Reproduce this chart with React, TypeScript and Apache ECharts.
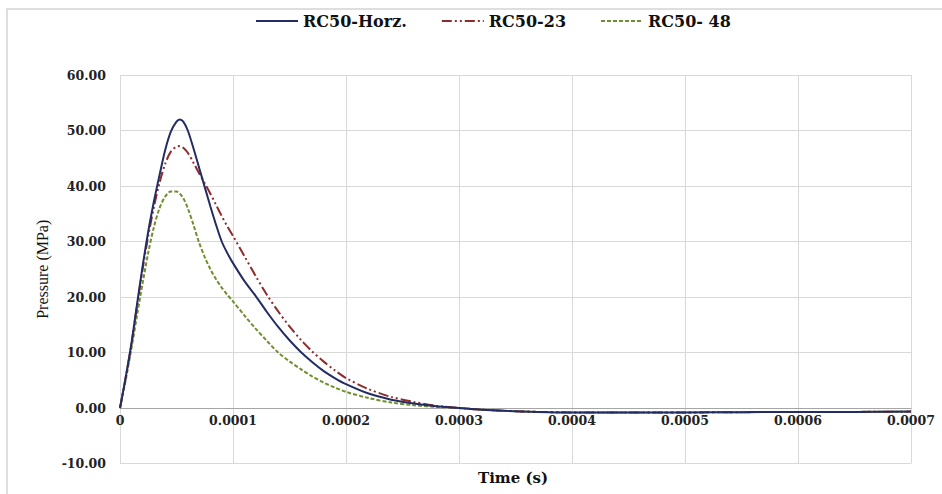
import React, { useEffect, useRef } from "react";
import * as echarts from "echarts";

// time in microseconds (axis labels shown in seconds)
const timeUs = [0, 5, 10, 15, 20, 25, 30, 35, 40, 45, 50, 53, 56, 60, 65, 70, 75, 80, 85, 90, 95, 100, 110, 120, 130, 140, 150, 160, 170, 180, 190, 200, 220, 240, 260, 280, 300, 320, 340, 370, 400, 450, 500, 550, 600, 650, 700];

const horz = [0, 5.5, 11.5, 18.6, 25.5, 31.8, 37.2, 42.0, 46.5, 49.8, 51.6, 52.0, 51.6, 50.0, 46.8, 43.3, 39.8, 36.3, 33.0, 30.0, 27.9, 26.1, 22.9, 20.2, 17.3, 14.6, 12.2, 10.1, 8.3, 6.7, 5.4, 4.3, 2.6, 1.5, 0.8, 0.3, 0.0, -0.3, -0.5, -0.7, -0.8, -0.8, -0.8, -0.75, -0.7, -0.7, -0.65];

const rc23 = [0, 5.4, 11.3, 18.3, 25.0, 31.0, 36.2, 40.6, 44.0, 46.2, 47.1, 47.2, 46.9, 46.0, 44.2, 42.3, 40.5, 38.6, 36.6, 34.6, 32.7, 31.0, 27.4, 23.8, 20.4, 17.4, 14.7, 12.3, 10.2, 8.4, 6.8, 5.4, 3.4, 2.0, 1.1, 0.4, 0.0, -0.3, -0.5, -0.7, -0.8, -0.8, -0.8, -0.75, -0.7, -0.7, -0.65];

const rc48 = [0, 5.0, 10.6, 16.6, 22.5, 28.0, 32.6, 36.0, 38.1, 39.0, 39.0, 38.6, 37.8, 36.0, 33.0, 29.8, 27.2, 25.0, 23.2, 21.7, 20.4, 19.2, 16.7, 14.3, 12.1, 10.0, 8.4, 7.0, 5.7, 4.6, 3.7, 2.9, 1.8, 1.0, 0.5, 0.2, 0.0, -0.3, -0.5, -0.7, -0.8, -0.8, -0.8, -0.75, -0.7, -0.7, -0.65];

const seriesNames = ["RC50-Horz.", "RC50-23", "RC50- 48"];
const seriesValues = [horz, rc23, rc48];
const xTitle = "Time (s)";
const yTitle = "Pressure (MPa)";

const colors = ["#232D63", "#8E2B2B", "#6F8F2E"];
const dashes: any[] = ["solid", [10, 3, 2, 3, 2, 3], [4, 2]];

const labelFont = "'DejaVu Serif', 'Liberation Serif', serif";

export default function App() {
  const ref = useRef<HTMLDivElement>(null);
  useEffect(() => {
    document.body.style.margin = "0";
    const chart = echarts.init(ref.current!, null, { renderer: "svg" });
    chart.setOption({
      animation: false,
      backgroundColor: "#ffffff",
      graphic: [
        {
          type: "rect",
          shape: { x: 7, y: 9, width: 1000, height: 600 },
          style: { fill: "none", stroke: "#D3D3D3", lineWidth: 1.5 },
          z: -1,
          silent: true,
        },
        {
          type: "text",
          left: 478,
          top: 470,
          style: {
            text: xTitle,
            fontFamily: labelFont,
            fontWeight: "bold",
            fontSize: 15,
            fill: "#111",
          },
        },
      ],
      legend: {
        top: 8,
        left: 250,
        itemWidth: 42,
        itemHeight: 14,
        itemGap: 34,
        itemStyle: { opacity: 0 },
        textStyle: { fontFamily: labelFont, fontWeight: "bold", fontSize: 16, color: "#111" },
        data: seriesNames,
      },
      grid: { left: 120, right: 31, top: 75, bottom: 30.5, containLabel: false },
      xAxis: {
        type: "value",
        position: "bottom",
        offset: -55.5,
        min: 0,
        max: 700,
        interval: 100,
        axisLine: { onZero: false, lineStyle: { color: "#A6A6A6", width: 1 } },
        axisTick: { show: false },
        axisLabel: {
          margin: 6,
          fontFamily: labelFont,
          fontWeight: "bold",
          fontSize: 12.5,
          color: "#222",
          formatter: (v: number) => (v === 0 ? "0" : (v / 1e6).toFixed(4)),
        },
        splitLine: { show: true, lineStyle: { color: "#D9D9D9", width: 1 } },
      },
      yAxis: {
        type: "value",
        min: -10,
        max: 60,
        interval: 10,
        name: yTitle,
        nameLocation: "middle",
        nameGap: 70,
        nameRotate: 90,
        nameTextStyle: { fontFamily: "'Liberation Serif', serif", fontWeight: "normal", fontSize: 16, color: "#111" },
        axisLine: { show: false },
        axisTick: { show: false },
        axisLabel: {
          margin: 14,
          fontFamily: labelFont,
          fontWeight: "bold",
          fontSize: 12.5,
          color: "#222",
          formatter: (v: number) => v.toFixed(2),
        },
        splitLine: { show: true, lineStyle: { color: "#D9D9D9", width: 1 } },
      },
      series: seriesNames.map((name, i) => ({
        name,
        type: "line",
        symbol: "none",
        smooth: 0.3,
        color: colors[i],
        lineStyle: { color: colors[i], width: 2, type: dashes[i] },
        data: timeUs.map((t, k) => [t, seriesValues[i][k]]),
        z: 3 - i,
      })),
    });
    return () => chart.dispose();
  }, []);
  return <div ref={ref} style={{ position: "absolute", left: 0, top: 0, width: 942, height: 494 }} />;
}
